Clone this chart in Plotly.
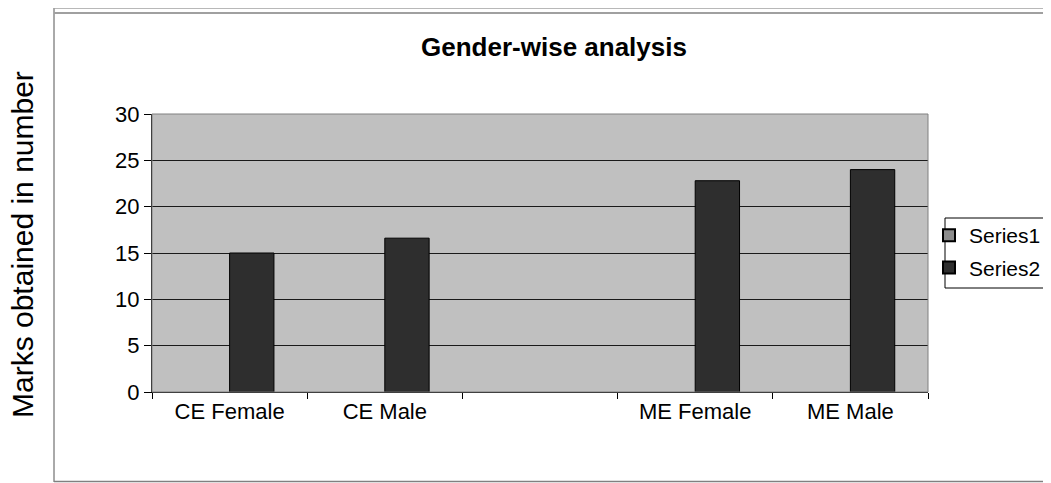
import plotly.graph_objects as go

categories = ["CE Female", "CE Male", " ", "ME Female", "ME Male"]
series1 = [None, None, None, None, None]
series2 = [15, 16.6, None, 22.8, 24]
y_ticks = [0, 5, 10, 15, 20, 25, 30]

FONT = "Liberation Sans, Arial, sans-serif"

# page has an 8px body margin; lay out in reference pixel coordinates, shifted
OFF = 8
W, H = 1051 - OFF, 483 - OFF
L, R, T, B = 152 - OFF, 928 - OFF, 114 - OFF, 392 - OFF
pw, ph = R - L, B - T

def px(x):
    return (x - OFF - L) / pw

def py(y):
    return (B - (y - OFF)) / ph

fig = go.Figure()
fig.add_trace(go.Bar(name="Series1", x=categories, y=series1,
                     marker=dict(color="#8c8c8c", line=dict(color="#000000", width=1)),
                     legendgroup="a"))
fig.add_trace(go.Bar(name="Series2", x=categories, y=series2,
                     marker=dict(color="#2e2e2e", line=dict(color="#000000", width=1)),
                     legendgroup="b"))

fig.update_layout(
    width=W, height=H,
    margin=dict(l=L, r=W - R, t=T, b=H - B, autoexpand=False),
    paper_bgcolor="white",
    plot_bgcolor="#c0c0c0",
    barmode="group",
    bargap=1.5 / 3.5,
    bargroupgap=0,
    font=dict(family=FONT, size=22, color="#000000"),
    title=dict(text="<b>Gender-wise analysis</b>", x=(554 - OFF) / W, xref="container", xanchor="center",
               y=1 - (47 - OFF) / H, yref="container", yanchor="middle",
               font=dict(family=FONT, size=26, color="#000000")),
    showlegend=True,
    legend=dict(x=px(929), y=py(215), xanchor="left", yanchor="top",
                bgcolor="rgba(0,0,0,0)", borderwidth=0,
                font=dict(family=FONT, size=21, color="#000000"),
                traceorder="grouped", tracegroupgap=2,
                itemwidth=30, itemsizing="constant"),
    xaxis=dict(type="category", categoryorder="array", categoryarray=categories,
               tickson="boundaries", ticks="outside", ticklen=6, tickcolor="#000000",
               showline=True, linecolor="#000000", linewidth=1,
               showgrid=False, tickfont=dict(size=22, family=FONT, color="#000000"),
               range=[-0.5, 4.5]),
    yaxis=dict(range=[0, 30], tickvals=y_ticks, ticks="outside", ticklen=7,
               tickcolor="#000000", showline=True, linecolor="#000000", linewidth=1,
               showgrid=True, gridcolor="#1a1a1a", gridwidth=1, zeroline=False,
               tickfont=dict(size=22, family=FONT, color="#000000")),
    annotations=[dict(text="Marks obtained in number", textangle=-90,
                      x=px(22), y=py(245), xref="paper", yref="paper",
                      xanchor="center", yanchor="middle", showarrow=False,
                      font=dict(family=FONT, size=30, color="#000000"))],
    shapes=[
        # plot area border (gray)
        dict(type="rect", xref="paper", yref="paper", x0=0, x1=1, y0=0, y1=1,
             line=dict(color="#808080", width=1), layer="above"),
        # legend box
        dict(type="rect", xref="paper", yref="paper", x0=px(945), x1=px(1049), y0=py(288), y1=py(218),
             line=dict(color="#000000", width=1), fillcolor="white", layer="below"),
        # outer chart border
        dict(type="line", xref="paper", yref="paper", x0=px(54), x1=px(54), y0=py(8), y1=py(482),
             line=dict(color="#555555", width=1)),
        dict(type="line", xref="paper", yref="paper", x0=px(54), x1=px(1051), y0=py(8), y1=py(8),
             line=dict(color="#a0a0a0", width=1.5)),
        dict(type="line", xref="paper", yref="paper", x0=px(54), x1=px(1051), y0=py(13), y1=py(13),
             line=dict(color="#a0a0a0", width=2)),
        dict(type="line", xref="paper", yref="paper", x0=px(54), x1=px(1051), y0=py(481.5), y1=py(481.5),
             line=dict(color="#808080", width=1.5)),
    ],
)

fig.write_html("out.html")
